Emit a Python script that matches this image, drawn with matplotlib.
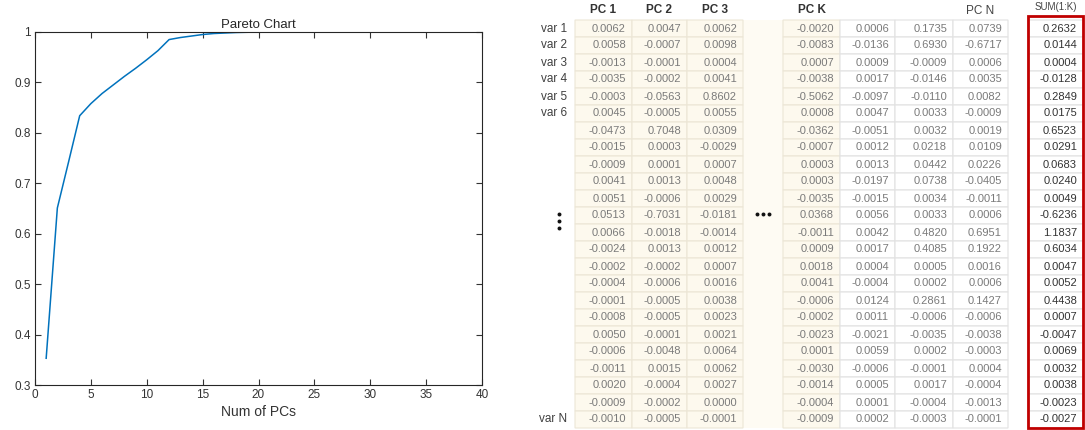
import matplotlib
matplotlib.use("Agg")
import matplotlib.pyplot as plt
from matplotlib.patches import Rectangle

plt.rcParams['font.family'] = ['Liberation Sans', 'DejaVu Sans']

# cumulative explained variance (Pareto curve)
num_pcs = list(range(1, 41))
cum_var = [0.353, 0.651, 0.742, 0.834, 0.858, 0.878, 0.895, 0.912, 0.928, 0.945,
           0.963, 0.985, 0.989, 0.992, 0.995, 0.997, 0.998, 0.999, 0.9995, 1.0,
           1.0, 1.0, 1.0, 1.0, 1.0, 1.0, 1.0, 1.0, 1.0, 1.0,
           1.0, 1.0, 1.0, 1.0, 1.0, 1.0, 1.0, 1.0, 1.0, 1.0]

# loadings table
row_labels = ["var 1", "var 2", "var 3", "var 4", "var 5", "var 6"] + [""] * 17 + ["var N"]
left_headers = ["PC 1", "PC 2", "PC 3"]
right_headers = ["PC K", "", "", "PC N"]
sum_header = "SUM(1:K)"

pc1 = ["0.0062", "0.0058", "-0.0013", "-0.0035", "-0.0003", "0.0045", "-0.0473", "-0.0015",
       "-0.0009", "0.0041", "0.0051", "0.0513", "0.0066", "-0.0024", "-0.0002", "-0.0004",
       "-0.0001", "-0.0008", "0.0050", "-0.0006", "-0.0011", "0.0020", "-0.0009", "-0.0010"]
pc2 = ["0.0047", "-0.0007", "-0.0001", "-0.0002", "-0.0563", "-0.0005", "0.7048", "0.0003",
       "0.0001", "0.0013", "-0.0006", "-0.7031", "-0.0018", "0.0013", "-0.0002", "-0.0006",
       "-0.0005", "-0.0005", "-0.0001", "-0.0048", "0.0015", "-0.0004", "-0.0002", "-0.0005"]
pc3 = ["0.0062", "0.0098", "0.0004", "0.0041", "0.8602", "0.0055", "0.0309", "-0.0029",
       "0.0007", "0.0048", "0.0029", "-0.0181", "-0.0014", "0.0012", "0.0007", "0.0016",
       "0.0038", "0.0023", "0.0021", "0.0064", "0.0062", "0.0027", "0.0000", "-0.0001"]
pck = ["-0.0020", "-0.0083", "0.0007", "-0.0038", "-0.5062", "0.0008", "-0.0362", "-0.0007",
       "0.0003", "0.0003", "-0.0035", "0.0368", "-0.0011", "0.0009", "0.0018", "0.0041",
       "-0.0006", "-0.0002", "-0.0023", "0.0001", "-0.0030", "-0.0014", "-0.0004", "-0.0009"]
pck1 = ["0.0006", "-0.0136", "0.0009", "0.0017", "-0.0097", "0.0047", "-0.0051", "0.0012",
        "0.0013", "-0.0197", "-0.0015", "0.0056", "0.0042", "0.0017", "0.0004", "-0.0004",
        "0.0124", "0.0011", "-0.0021", "0.0059", "-0.0006", "0.0005", "0.0001", "0.0002"]
pck2 = ["0.1735", "0.6930", "-0.0009", "-0.0146", "-0.0110", "0.0033", "0.0032", "0.0218",
        "0.0442", "0.0738", "0.0034", "0.0033", "0.4820", "0.4085", "0.0005", "0.0002",
        "0.2861", "-0.0006", "-0.0035", "0.0002", "-0.0001", "0.0017", "-0.0004", "-0.0003"]
pcn = ["0.0739", "-0.6717", "0.0006", "0.0035", "0.0082", "-0.0009", "0.0019", "0.0109",
       "0.0226", "-0.0405", "-0.0011", "0.0006", "0.6951", "0.1922", "0.0016", "0.0006",
       "0.1427", "-0.0006", "-0.0038", "-0.0003", "0.0004", "-0.0004", "-0.0013", "-0.0001"]
sum_k = ["0.2632", "0.0144", "0.0004", "-0.0128", "0.2849", "0.0175", "0.6523", "0.0291",
         "0.0683", "0.0240", "0.0049", "-0.6236", "1.1837", "0.6034", "0.0047", "0.0052",
         "0.4438", "0.0007", "-0.0047", "0.0069", "0.0032", "0.0038", "-0.0023", "-0.0027"]

W, H = 1085, 430
fig = plt.figure(figsize=(W / 100, H / 100), dpi=100)

# ---- Pareto chart ----
ax = fig.add_axes([35 / W, 45 / H, 447 / W, 353 / H])
ax.plot(num_pcs, cum_var, color="#0072BD", lw=1.1)
ax.set_xlim(0, 40)
ax.set_ylim(0.3, 1.0)
ax.set_xticks(range(0, 41, 5))
ax.set_yticks([0.3, 0.4, 0.5, 0.6, 0.7, 0.8, 0.9, 1.0])
ax.set_yticklabels(["0.3", "0.4", "0.5", "0.6", "0.7", "0.8", "0.9", "1"])
ax.tick_params(direction="in", top=True, right=True, length=4, width=0.8,
               labelsize=8.5, colors="#333333", pad=3)
for s in ax.spines.values():
    s.set_color("#262626")
    s.set_linewidth(0.8)
ax.set_title("Pareto Chart", fontsize=9.5, color="#262626", pad=3)
ax.set_xlabel("Num of PCs", fontsize=10, color="#333333", labelpad=3)

# ---- loadings table (pixel coordinates) ----
tb = fig.add_axes([0, 0, 1, 1])
tb.set_xlim(0, W)
tb.set_ylim(H, 0)
tb.axis("off")

row0, pitch = 28.5, 17.0
n_rows = len(pc1)
top = row0 - pitch / 2
bottom = top + pitch * n_rows

beige = "#FDF9EE"
beige_gap = "#FEFBF3"
beige_edge = "#ECE6D6"
white_edge = "#E2E2E2"
cell_txt = "#7A7A7A"

left_cols = [pc1, pc2, pc3]
left_edges = [575, 632, 687, 743]
right_cols = [pck, pck1, pck2, pcn]
right_edges = [783, 840, 895, 953, 1008]
sum_edges = [1028, 1083]

# plain beige band between PC 3 and PC K
tb.add_patch(Rectangle((left_edges[-1], top), right_edges[0] - left_edges[-1], bottom - top,
                       facecolor=beige_gap, edgecolor="none"))


def draw_column(values, x0, x1, face, edge, color):
    for i, v in enumerate(values):
        y = top + i * pitch
        tb.add_patch(Rectangle((x0, y), x1 - x0, pitch, facecolor=face, edgecolor=edge,
                               lw=0.8, snap=False))
        tb.text(x1 - 6, y + pitch / 2, v, ha="right", va="center", fontsize=8, color=color)


for j, col in enumerate(left_cols):
    draw_column(col, left_edges[j], left_edges[j + 1], beige, beige_edge, cell_txt)
    tb.text((left_edges[j] + left_edges[j + 1]) / 2, 10, left_headers[j], ha="center",
            va="center", fontsize=8.5, fontweight="bold", color="#333333")

for j, col in enumerate(right_cols):
    face = beige if j == 0 else "white"
    edge = beige_edge if j == 0 else white_edge
    draw_column(col, right_edges[j], right_edges[j + 1], face, edge, cell_txt)
tb.text((right_edges[0] + right_edges[1]) / 2, 10, right_headers[0], ha="center",
        va="center", fontsize=8.5, fontweight="bold", color="#333333")
tb.text((right_edges[3] + right_edges[4]) / 2, 11, right_headers[3], ha="center",
        va="center", fontsize=8.5, color="#444444")

draw_column(sum_k, sum_edges[0], sum_edges[1], "white", white_edge, "#333333")
tb.add_patch(Rectangle((sum_edges[0], top - 4), sum_edges[1] - sum_edges[0], bottom - top + 4,
                       facecolor="none", edgecolor="#C00000", lw=2))
tb.text((sum_edges[0] + sum_edges[1]) / 2, 7, sum_header, ha="center", va="center",
        fontsize=7, color="#444444")

for i, lab in enumerate(row_labels):
    if lab:
        tb.text(567, row0 + i * pitch, lab, ha="right", va="center", fontsize=8.5, color="#404040")

# ellipsis marks
tb.scatter([559, 559, 559], [214, 221, 228], s=8, color="#111111", linewidths=0)
tb.scatter([757, 763, 769], [214, 214, 214], s=8, color="#111111", linewidths=0)

fig.savefig("out.png", dpi=100)
